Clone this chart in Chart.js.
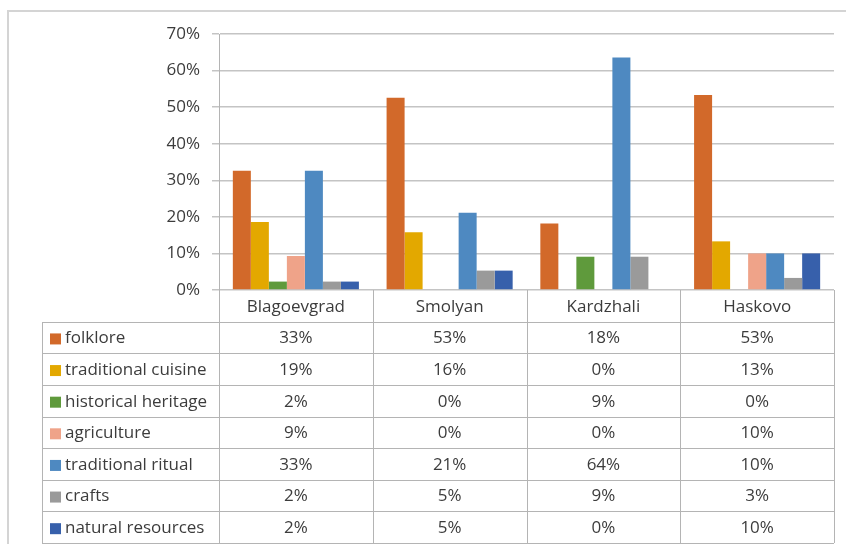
<!DOCTYPE html>
<html>
<head>
<meta charset="utf-8">
<script src="https://cdn.jsdelivr.net/npm/chart.js@4.4.1/dist/chart.umd.min.js"></script>
<style>
  html, body { margin: 0; padding: 0; background: #fff; }
  #wrap { width: 846px; height: 544px; position: relative; }
</style>
</head>
<body>
<div id="wrap"><canvas id="tourismChart" width="846" height="544"></canvas></div>
<script>
const regions = ['Blagoevgrad', 'Smolyan', 'Kardzhali', 'Haskovo'];
const folklore = [32.6, 52.6, 18.2, 53.3];
const traditionalCuisine = [18.6, 15.8, 0, 13.3];
const historicalHeritage = [2.3, 0, 9.1, 0];
const agriculture = [9.3, 0, 0, 10];
const traditionalRitual = [32.6, 21.1, 63.6, 10];
const crafts = [2.3, 5.3, 9.1, 3.3];
const naturalResources = [2.3, 5.3, 0, 10];
const yTicks = [0, 10, 20, 30, 40, 50, 60, 70];

const series = [
    { label: 'folklore', data: folklore, color: '#D2692A' },
    { label: 'traditional cuisine', data: traditionalCuisine, color: '#E3A800' },
    { label: 'historical heritage', data: historicalHeritage, color: '#5F9A3C' },
    { label: 'agriculture', data: agriculture, color: '#EFA389' },
    { label: 'traditional ritual', data: traditionalRitual, color: '#4E89C1' },
    { label: 'crafts', data: crafts, color: '#9A9A9A' },
    { label: 'natural resources', data: naturalResources, color: '#3760AB' }
];

const FAMILY = '"Open Sans", Lato, sans-serif';
const FONT = '17px ' + FAMILY;
const TEXT = '#3C3C3C';
const LINE = '#B4B4B4';

// light frame round the picture (top and left only)
const framePlugin = {
    id: 'frame',
    beforeDraw(chart) {
        const ctx = chart.ctx;
        ctx.save();
        ctx.strokeStyle = '#D4D4D4';
        ctx.lineWidth = 2;
        ctx.beginPath();
        ctx.moveTo(8, chart.height);
        ctx.lineTo(8, 11);
        ctx.lineTo(chart.width, 11);
        ctx.stroke();
        ctx.restore();
    }
};

// data table under the plot, columns follow the x scale
const dataTablePlugin = {
    id: 'dataTable',
    afterDraw(chart) {
        const ctx = chart.ctx;
        const area = chart.chartArea;
        const x = chart.scales.x;
        const n = regions.length;
        const colW = (area.right - area.left) / n;
        const bounds = [];
        for (let i = 0; i < n; i++) bounds.push(x.getPixelForValue(i) - colW / 2);
        bounds.push(x.getPixelForValue(n - 1) + colW / 2);

        const tableLeft = 42;
        const top = area.bottom;
        const bottom = chart.height - 1;
        const rowH = (bottom - top) / (series.length + 1);

        ctx.save();
        ctx.strokeStyle = LINE;
        ctx.lineWidth = 1;
        ctx.beginPath();
        for (let k = 1; k <= series.length + 1; k++) {
            const y = Math.round(top + k * rowH) + 0.5;
            ctx.moveTo(tableLeft, y);
            ctx.lineTo(bounds[n], y);
        }
        ctx.moveTo(tableLeft + 0.5, Math.round(top + rowH));
        ctx.lineTo(tableLeft + 0.5, bottom);
        bounds.forEach(b => {
            ctx.moveTo(Math.round(b) + 0.5, top);
            ctx.lineTo(Math.round(b) + 0.5, bottom);
        });
        ctx.stroke();

        ctx.font = FONT;
        ctx.fillStyle = TEXT;
        ctx.textBaseline = 'middle';
        ctx.textAlign = 'center';
        regions.forEach((r, i) => {
            ctx.fillText(r, x.getPixelForValue(i), top + rowH / 2 + 1);
        });

        series.forEach((s, k) => {
            const cy = top + (k + 1.5) * rowH + 1;
            ctx.fillStyle = s.color;
            ctx.fillRect(tableLeft + 8, cy - 5, 11, 11);
            ctx.fillStyle = TEXT;
            ctx.textAlign = 'left';
            ctx.fillText(s.label, tableLeft + 23, cy);
            ctx.textAlign = 'center';
            s.data.forEach((v, i) => {
                ctx.fillText(Math.round(v) + '%', x.getPixelForValue(i), cy);
            });
        });
        ctx.restore();
    }
};

new Chart(document.getElementById('tourismChart'), {
    type: 'bar',
    data: {
        labels: regions,
        datasets: series.map(s => ({
            label: s.label,
            data: s.data,
            backgroundColor: s.color,
            borderWidth: 0,
            categoryPercentage: 0.82,
            barPercentage: 1
        }))
    },
    options: {
        responsive: false,
        animation: false,
        layout: { padding: { left: 0, right: 12, top: 34, bottom: 254 } },
        plugins: {
            legend: { display: false },
            tooltip: { enabled: false }
        },
        scales: {
            x: { display: false },
            y: {
                min: 0,
                max: 70,
                afterBuildTicks(scale) {
                    scale.ticks = yTicks.map(v => ({ value: v }));
                },
                afterFit(scale) { scale.width = 219; },
                ticks: {
                    callback: v => v + '%',
                    color: TEXT,
                    font: { family: FAMILY, size: 17 },
                    padding: 12
                },
                grid: { color: '#C4C4C4', lineWidth: 1.5, tickLength: 7 },
                border: { display: true, color: LINE, width: 1 }
            }
        }
    },
    plugins: [framePlugin, dataTablePlugin]
});
</script>
</body>
</html>
